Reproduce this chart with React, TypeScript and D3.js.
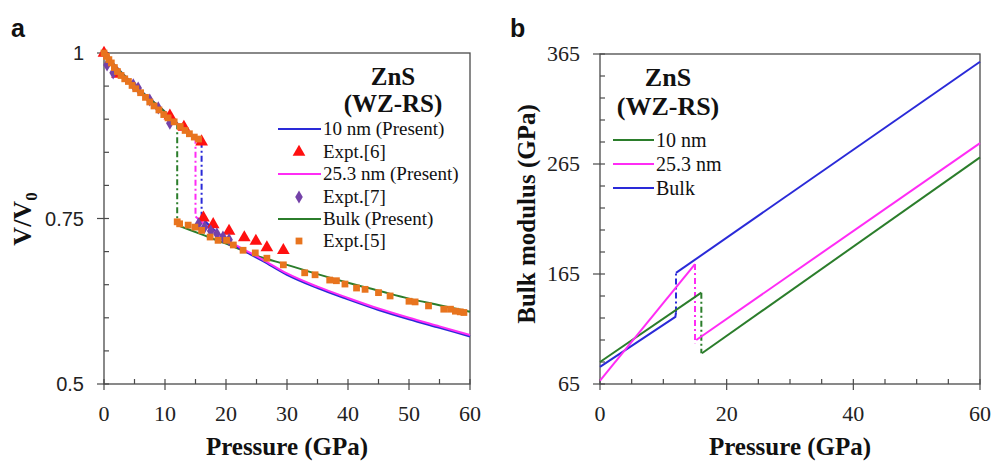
import React from "react";
import * as d3 from "d3";

// ---------- Panel a data: V/V0 vs Pressure ----------
const wzP = [0, 2, 4, 6, 8, 10, 12, 14, 15, 16];
const wzV = [1.0, 0.979, 0.96, 0.943, 0.927, 0.911, 0.894, 0.879, 0.872, 0.866];

const bulkLowP = [0, 2, 4, 6, 8, 10, 12];
const rsBulkP = [12, 16, 20, 24, 30, 35, 40, 45, 50, 55, 60];
const rsBulkV = [0.74, 0.726, 0.712, 0.697, 0.68, 0.666, 0.653, 0.641, 0.629, 0.619, 0.609];
const rs10P = [16, 18, 20, 22, 24, 26, 30, 35, 40, 45, 50, 55, 60];
const rs10V = [0.751, 0.733, 0.718, 0.706, 0.696, 0.686, 0.665, 0.645, 0.628, 0.612, 0.598, 0.585, 0.572];
const rs25P = [15, 17, 19, 21, 24, 26, 30, 35, 40, 45, 50, 55, 60];
const rs25V = [0.753, 0.737, 0.724, 0.713, 0.698, 0.688, 0.667, 0.647, 0.63, 0.614, 0.6, 0.587, 0.574];

const ex6P = [0, 2.2, 10.8, 13.1, 16, 16.3, 17.9, 20.5, 23.0, 24.9, 26.7, 29.4];
const ex6V = [1.0, 0.968, 0.905, 0.888, 0.866, 0.751, 0.741, 0.731, 0.721, 0.716, 0.706, 0.702];

const ex7P = [0.5, 1.5, 4.8, 5.6, 7.5, 8.9, 10.8, 15.5, 16.5, 17.5, 18.5, 19.5, 20.5];
const ex7V = [0.982, 0.97, 0.952, 0.947, 0.929, 0.917, 0.894, 0.742, 0.737, 0.731, 0.727, 0.722, 0.718];

const ex5P = [0, 0.4, 0.8, 1.2, 1.7, 2.2, 2.8, 3.4, 4.0, 4.6, 5.2, 6.0, 6.8, 7.5, 8.2, 9.0, 9.8, 10.5, 11.5, 12.5, 13.3, 14.0, 14.8, 15.5,
  12.0, 12.4, 13.8, 14.9, 16.0, 17.4, 18.7, 20.1, 21.2, 22.8, 24.8, 26.7, 29.4, 32.9, 34.6, 37.0, 38.1, 39.5, 41.4, 42.8, 45.0, 46.9, 50.0, 51.0, 53.2, 55.7, 56.8, 57.6, 58.4, 59.0];
const ex5V = [1.0, 0.995, 0.99, 0.985, 0.978, 0.972, 0.966, 0.961, 0.957, 0.951, 0.946, 0.94, 0.933, 0.926, 0.92, 0.914, 0.907, 0.902, 0.896, 0.889, 0.883, 0.878, 0.873, 0.870,
  0.745, 0.742, 0.740, 0.737, 0.732, 0.722, 0.717, 0.717, 0.71, 0.702, 0.698, 0.69, 0.68, 0.668, 0.665, 0.657, 0.656, 0.651, 0.645, 0.643, 0.638, 0.633, 0.625, 0.624, 0.618, 0.613, 0.613, 0.61, 0.609, 0.608];

const transP = { bulk: 12, nm25: 15, nm10: 16 };

const aYTicks = [0.5, 0.75, 1];
const aXTicks = [0, 10, 20, 30, 40, 50, 60];
const aLegend = ["10 nm (Present)", "Expt.[6]", "25.3 nm (Present)", "Expt.[7]", "Bulk (Present)", "Expt.[5]"];

// ---------- Panel b data: Bulk modulus vs Pressure ----------
const bBulkLowP = [0, 11.9, 12];
const bBulkLowB = [80.5, 126, 130];
const bBulkHighP = [12, 60];
const bBulkHighB = [166, 358];
const b25LowP = [0, 15];
const b25LowB = [68, 174];
const b25HighP = [15.2, 60];
const b25HighB = [105, 284];
const b10LowP = [0, 16];
const b10LowB = [85, 148];
const b10HighP = [16.1, 60];
const b10HighB = [93, 271];

const bYTicks = [65, 165, 265, 365];
const bXTicks = [0, 20, 40, 60];
const bLegend = ["10 nm", "25.3 nm", "Bulk"];

const BLUE = "#2a2ad8";
const MAGENTA = "#ff2cf5";
const GREEN = "#2b7d2b";
const RED = "#ff1010";
const PURPLE = "#7442a8";
const ORANGE = "#e8741e";
const AX = "#4a4a4a";
const SERIF = "'Liberation Serif', 'Times New Roman', serif";
const SANS = "'Liberation Sans', Arial, sans-serif";

const zip = (xs: number[], ys: number[]) => xs.map((x, i) => [x, ys[i]] as [number, number]);

function Axes({ x, y, xTicks, yTicks, xMinor, yMinor, yLabelSans, yFmt }: any) {
  const [x0, x1] = x.range();
  const [y0, y1] = y.range(); // y0 bottom
  return (
    <g>
      <rect x={x0} y={y1} width={x1 - x0} height={y0 - y1} fill="none" stroke={AX} strokeWidth={1.3} />
      {xMinor.map((t: number) => (
        <line key={"xm" + t} x1={x(t)} x2={x(t)} y1={y0} y2={y0 - 5} stroke={AX} strokeWidth={1.2} />
      ))}
      {xTicks.map((t: number) => (
        <g key={"xt" + t}>
          <line x1={x(t)} x2={x(t)} y1={y0 - 5} y2={y0 + 6} stroke={AX} strokeWidth={1.2} />
          <text x={x(t)} y={y0 + 37} textAnchor="middle" fontFamily={SERIF} fontSize={22} fill="#222">{t}</text>
        </g>
      ))}
      {yMinor.map((t: number) => (
        <line key={"ym" + t} x1={x0} x2={x0 + 5} y1={y(t)} y2={y(t)} stroke={AX} strokeWidth={1.2} />
      ))}
      {yTicks.map((t: number) => (
        <g key={"yt" + t}>
          <line x1={x0 - 7} x2={x0 + 5} y1={y(t)} y2={y(t)} stroke={AX} strokeWidth={1.2} />
          <text x={x0 - 20} y={y(t) + 7} textAnchor="end" fontFamily={yLabelSans ? SANS : SERIF} fontSize={yLabelSans ? 20 : 22} fill="#222">{yFmt(t)}</text>
        </g>
      ))}
    </g>
  );
}

export default function App() {
  // Panel a scales
  const ax = d3.scaleLinear().domain([0, 60]).range([104, 470]);
  const ay = d3.scaleLinear().domain([0.5, 1]).range([384, 53]);
  const aLine = d3.line<[number, number]>().x(d => ax(d[0])).y(d => ay(d[1])).curve(d3.curveMonotoneX);

  const wz = zip(wzP, wzV);
  const wzTo = (p: number) => wz.filter(d => d[0] <= p);
  const wzAt = (p: number) => d3.scaleLinear().domain(wzP).range(wzV)(p);

  const bx = d3.scaleLinear().domain([0, 60]).range([600, 980]);
  const by = d3.scaleLinear().domain([65, 365]).range([384, 54]);
  const bLine = d3.line<[number, number]>().x(d => bx(d[0])).y(d => by(d[1]));

  const tri = d3.symbol().type(d3.symbolTriangle).size(70)();
  const dia = d3.symbol().type(d3.symbolDiamond).size(50)();
  const sq = d3.symbol().type(d3.symbolSquare).size(46)();

  const dashDot = "6 3 2 3";

  const aXMinor = d3.range(5, 60, 10);
  const aYMinor = d3.range(0.55, 1.0, 0.05).filter(v => Math.abs(v - 0.75) > 0.01);
  const bXMinor = d3.range(5, 60, 5).filter(v => v % 20 !== 0);
  const bYMinor = d3.range(85, 365, 20).filter(v => (v - 65) % 100 !== 0);

  const legA = [
    { type: "line", color: BLUE },
    { type: "tri", color: RED },
    { type: "line", color: MAGENTA },
    { type: "dia", color: PURPLE },
    { type: "line", color: GREEN },
    { type: "sq", color: ORANGE },
  ];
  const legAY = [129, 152, 174, 197, 219, 241];
  const legBColors = [GREEN, MAGENTA, BLUE];
  const legBY = [140, 164, 188];

  return (
    <svg width={992} height={461} style={{ position: "absolute", left: 0, top: 0, background: "#fff" }}>
      {/* ---------------- Panel a ---------------- */}
      <text x={11} y={37} fontFamily={SANS} fontWeight="bold" fontSize={25} fill="#111">a</text>
      <Axes x={ax} y={ay} xTicks={aXTicks} yTicks={aYTicks} xMinor={aXMinor} yMinor={aYMinor} yLabelSans
        yFmt={(t: number) => (t === 1 ? "1" : String(t))} />
      <text transform="translate(31,219) rotate(-90)" textAnchor="middle" fontFamily={SERIF} fontWeight="bold" fontSize={26} fill="#111">
        V/V<tspan fontSize={17} dy={6}>0</tspan>
      </text>
      <text x={287} y={455} textAnchor="middle" fontFamily={SERIF} fontWeight="bold" fontSize={25} fill="#111">Pressure (GPa)</text>

      {/* transitions */}
      <line x1={ax(transP.bulk)} x2={ax(transP.bulk)} y1={ay(wzAt(transP.bulk))} y2={ay(rsBulkV[0])} stroke={GREEN} strokeWidth={2} strokeDasharray={dashDot} />
      <line x1={ax(transP.nm25)} x2={ax(transP.nm25)} y1={ay(wzAt(transP.nm25))} y2={ay(rs25V[0])} stroke={MAGENTA} strokeWidth={2} strokeDasharray={dashDot} />
      <line x1={ax(transP.nm10)} x2={ax(transP.nm10)} y1={ay(wzAt(transP.nm10))} y2={ay(rs10V[0])} stroke={BLUE} strokeWidth={2} strokeDasharray={dashDot} />

      {/* WZ branches */}
      <path d={aLine(wzTo(16)) || ""} fill="none" stroke={BLUE} strokeWidth={2} />
      <path d={aLine(wzTo(15)) || ""} fill="none" stroke={MAGENTA} strokeWidth={2} />
      <path d={aLine(zip(bulkLowP, bulkLowP.map(wzAt))) || ""} fill="none" stroke={GREEN} strokeWidth={2} />
      {/* RS branches */}
      <path d={aLine(zip(rsBulkP, rsBulkV)) || ""} fill="none" stroke={GREEN} strokeWidth={2} />
      <path d={aLine(zip(rs10P, rs10V)) || ""} fill="none" stroke={BLUE} strokeWidth={2.2} />
      <path d={aLine(zip(rs25P, rs25V)) || ""} fill="none" stroke={MAGENTA} strokeWidth={2} />

      {/* experiments */}
      {zip(ex6P, ex6V).map((d, i) => (
        <path key={"e6" + i} d={tri || ""} transform={`translate(${ax(d[0])},${ay(d[1])})`} fill={RED} />
      ))}
      {zip(ex7P, ex7V).map((d, i) => (
        <path key={"e7" + i} d={dia || ""} transform={`translate(${ax(d[0])},${ay(d[1])})`} fill={PURPLE} />
      ))}
      {zip(ex5P, ex5V).map((d, i) => (
        <path key={"e5" + i} d={sq || ""} transform={`translate(${ax(d[0])},${ay(d[1])})`} fill={ORANGE} />
      ))}

      {/* legend a */}
      <text x={393} y={85} textAnchor="middle" fontFamily={SERIF} fontWeight="bold" fontSize={25} fill="#111">ZnS</text>
      <text x={393} y={112} textAnchor="middle" fontFamily={SERIF} fontWeight="bold" fontSize={25} fill="#111">(WZ-RS)</text>
      {legA.map((l, i) => (
        <g key={"la" + i}>
          {l.type === "line" && <line x1={278} x2={321} y1={legAY[i]} y2={legAY[i]} stroke={l.color} strokeWidth={2} />}
          {l.type === "tri" && <path d={tri || ""} transform={`translate(299,${legAY[i]})`} fill={l.color} />}
          {l.type === "dia" && <path d={dia || ""} transform={`translate(299,${legAY[i]})`} fill={l.color} />}
          {l.type === "sq" && <path d={sq || ""} transform={`translate(299,${legAY[i]})`} fill={l.color} />}
          <text x={323} y={legAY[i] + 6} fontFamily={SERIF} fontSize={19} fill="#111">{aLegend[i]}</text>
        </g>
      ))}

      {/* ---------------- Panel b ---------------- */}
      <text x={510} y={37} fontFamily={SANS} fontWeight="bold" fontSize={25} fill="#111">b</text>
      <Axes x={bx} y={by} xTicks={bXTicks} yTicks={bYTicks} xMinor={bXMinor} yMinor={bYMinor}
        yFmt={(t: number) => String(t)} />
      <text transform="translate(535,214) rotate(-90)" textAnchor="middle" fontFamily={SERIF} fontWeight="bold" fontSize={25} fill="#111">Bulk modulus (GPa)</text>
      <text x={790} y={455} textAnchor="middle" fontFamily={SERIF} fontWeight="bold" fontSize={25} fill="#111">Pressure (GPa)</text>

      {/* transitions */}
      <line x1={bx(bBulkLowP[2])} x2={bx(bBulkLowP[2])} y1={by(bBulkLowB[2])} y2={by(bBulkHighB[0])} stroke={BLUE} strokeWidth={2} strokeDasharray={dashDot} />
      <line x1={bx(b25LowP[1])} x2={bx(b25LowP[1])} y1={by(b25LowB[1])} y2={by(102)} stroke={MAGENTA} strokeWidth={2} strokeDasharray={dashDot} />
      <line x1={bx(b10LowP[1])} x2={bx(b10LowP[1])} y1={by(b10LowB[1])} y2={by(b10HighB[0])} stroke={GREEN} strokeWidth={2} strokeDasharray={dashDot} />

      <path d={bLine(zip(b10LowP, b10LowB)) || ""} fill="none" stroke={GREEN} strokeWidth={2} />
      <path d={bLine(zip(b10HighP, b10HighB)) || ""} fill="none" stroke={GREEN} strokeWidth={2} />
      <path d={bLine(zip(bBulkLowP, bBulkLowB)) || ""} fill="none" stroke={BLUE} strokeWidth={2} />
      <path d={bLine(zip(bBulkHighP, bBulkHighB)) || ""} fill="none" stroke={BLUE} strokeWidth={2} />
      <path d={bLine(zip(b25LowP, b25LowB)) || ""} fill="none" stroke={MAGENTA} strokeWidth={2} />
      <path d={bLine(zip(b25HighP, b25HighB)) || ""} fill="none" stroke={MAGENTA} strokeWidth={2} />

      {/* legend b */}
      <text x={668} y={86} textAnchor="middle" fontFamily={SERIF} fontWeight="bold" fontSize={26} fill="#111">ZnS</text>
      <text x={668} y={115} textAnchor="middle" fontFamily={SERIF} fontWeight="bold" fontSize={26} fill="#111">(WZ-RS)</text>
      {bLegend.map((s, i) => (
        <g key={"lb" + i}>
          <line x1={613} x2={654} y1={legBY[i]} y2={legBY[i]} stroke={legBColors[i]} strokeWidth={2} />
          <text x={656} y={legBY[i] + 7} fontFamily={SERIF} fontSize={20} fill="#111">{s}</text>
        </g>
      ))}
    </svg>
  );
}
